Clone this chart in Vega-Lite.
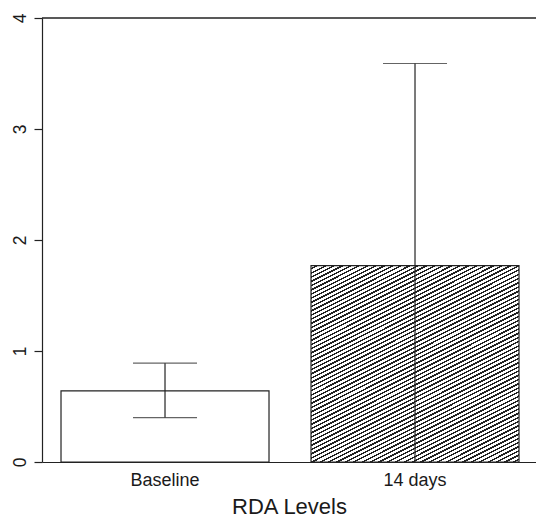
{
  "$schema": "https://vega.github.io/schema/vega-lite/v6.json",
  "autosize": "none",
  "width": 494,
  "height": 444,
  "padding": {"left": 42, "top": 18, "right": 0, "bottom": 56},
  "background": "white",
  "config": {
    "view": {"stroke": null},
    "font": "Liberation Sans",
    "axis": {"grid": false, "domainColor": "#222", "domainWidth": 1.2, "tickColor": "#222", "tickWidth": 1.2, "labelColor": "#1a1a1a", "titleColor": "#1a1a1a", "labelFont": "Liberation Sans", "titleFont": "Liberation Sans"}
  },
  "data": {"values": [
    {"group": "Baseline", "mean": 0.64, "lo": 0.40, "hi": 0.89},
    {"group": "14 days", "mean": 1.77, "lo": -0.05, "hi": 3.59}
  ]},
  "layer": [
    {
      "transform": [{"filter": "datum.group === 'Baseline'"}],
      "mark": {"type": "bar", "fill": "white", "stroke": "#222", "strokeWidth": 1.2},
      "encoding": {
        "x": {"field": "group", "type": "nominal", "sort": ["Baseline", "14 days"],
          "scale": {"paddingInner": 0.168, "paddingOuter": 0.072, "align": 0.528},
          "axis": {"title": "RDA Levels", "ticks": false, "labelAngle": 0, "labelFontSize": 18, "labelBaseline": "alphabetic", "labelPadding": 23, "titleFontSize": 22, "titleFontWeight": "normal", "titleBaseline": "alphabetic", "titleY": 51}},
        "y": {"field": "mean", "type": "quantitative",
          "scale": {"domain": [0, 4], "nice": false},
          "axis": {"title": null, "values": [0, 1, 2, 3, 4], "format": "d", "tickSize": 8, "labelAngle": -90, "labelAlign": "center", "labelBaseline": "alphabetic", "labelPadding": 9, "labelFontSize": 17.5}}
      }
    },
    {
      "transform": [{"filter": "datum.group === '14 days'"}],
      "mark": {"type": "bar", "stroke": "#222", "strokeWidth": 1.2,
        "fill": {"gradient": "linear", "x1": 0, "y1": 0, "x2": 0.709, "y2": 1.337, "stops": [
          {"offset": 0, "color": "#fff"}, {"offset": 0.0075, "color": "#fff"}, {"offset": 0.0075, "color": "#222"}, {"offset": 0.0125, "color": "#222"},
          {"offset": 0.0125, "color": "#fff"}, {"offset": 0.02, "color": "#fff"}, {"offset": 0.02, "color": "#222"}, {"offset": 0.025, "color": "#222"},
          {"offset": 0.025, "color": "#fff"}, {"offset": 0.0325, "color": "#fff"}, {"offset": 0.0325, "color": "#222"}, {"offset": 0.0375, "color": "#222"},
          {"offset": 0.0375, "color": "#fff"}, {"offset": 0.045, "color": "#fff"}, {"offset": 0.045, "color": "#222"}, {"offset": 0.05, "color": "#222"},
          {"offset": 0.05, "color": "#fff"}, {"offset": 0.0575, "color": "#fff"}, {"offset": 0.0575, "color": "#222"}, {"offset": 0.0625, "color": "#222"},
          {"offset": 0.0625, "color": "#fff"}, {"offset": 0.07, "color": "#fff"}, {"offset": 0.07, "color": "#222"}, {"offset": 0.075, "color": "#222"},
          {"offset": 0.075, "color": "#fff"}, {"offset": 0.0825, "color": "#fff"}, {"offset": 0.0825, "color": "#222"}, {"offset": 0.0875, "color": "#222"},
          {"offset": 0.0875, "color": "#fff"}, {"offset": 0.095, "color": "#fff"}, {"offset": 0.095, "color": "#222"}, {"offset": 0.1, "color": "#222"},
          {"offset": 0.1, "color": "#fff"}, {"offset": 0.1075, "color": "#fff"}, {"offset": 0.1075, "color": "#222"}, {"offset": 0.1125, "color": "#222"},
          {"offset": 0.1125, "color": "#fff"}, {"offset": 0.12, "color": "#fff"}, {"offset": 0.12, "color": "#222"}, {"offset": 0.125, "color": "#222"},
          {"offset": 0.125, "color": "#fff"}, {"offset": 0.1325, "color": "#fff"}, {"offset": 0.1325, "color": "#222"}, {"offset": 0.1375, "color": "#222"},
          {"offset": 0.1375, "color": "#fff"}, {"offset": 0.145, "color": "#fff"}, {"offset": 0.145, "color": "#222"}, {"offset": 0.15, "color": "#222"},
          {"offset": 0.15, "color": "#fff"}, {"offset": 0.1575, "color": "#fff"}, {"offset": 0.1575, "color": "#222"}, {"offset": 0.1625, "color": "#222"},
          {"offset": 0.1625, "color": "#fff"}, {"offset": 0.17, "color": "#fff"}, {"offset": 0.17, "color": "#222"}, {"offset": 0.175, "color": "#222"},
          {"offset": 0.175, "color": "#fff"}, {"offset": 0.1825, "color": "#fff"}, {"offset": 0.1825, "color": "#222"}, {"offset": 0.1875, "color": "#222"},
          {"offset": 0.1875, "color": "#fff"}, {"offset": 0.195, "color": "#fff"}, {"offset": 0.195, "color": "#222"}, {"offset": 0.2, "color": "#222"},
          {"offset": 0.2, "color": "#fff"}, {"offset": 0.2075, "color": "#fff"}, {"offset": 0.2075, "color": "#222"}, {"offset": 0.2125, "color": "#222"},
          {"offset": 0.2125, "color": "#fff"}, {"offset": 0.22, "color": "#fff"}, {"offset": 0.22, "color": "#222"}, {"offset": 0.225, "color": "#222"},
          {"offset": 0.225, "color": "#fff"}, {"offset": 0.2325, "color": "#fff"}, {"offset": 0.2325, "color": "#222"}, {"offset": 0.2375, "color": "#222"},
          {"offset": 0.2375, "color": "#fff"}, {"offset": 0.245, "color": "#fff"}, {"offset": 0.245, "color": "#222"}, {"offset": 0.25, "color": "#222"},
          {"offset": 0.25, "color": "#fff"}, {"offset": 0.2575, "color": "#fff"}, {"offset": 0.2575, "color": "#222"}, {"offset": 0.2625, "color": "#222"},
          {"offset": 0.2625, "color": "#fff"}, {"offset": 0.27, "color": "#fff"}, {"offset": 0.27, "color": "#222"}, {"offset": 0.275, "color": "#222"},
          {"offset": 0.275, "color": "#fff"}, {"offset": 0.2825, "color": "#fff"}, {"offset": 0.2825, "color": "#222"}, {"offset": 0.2875, "color": "#222"},
          {"offset": 0.2875, "color": "#fff"}, {"offset": 0.295, "color": "#fff"}, {"offset": 0.295, "color": "#222"}, {"offset": 0.3, "color": "#222"},
          {"offset": 0.3, "color": "#fff"}, {"offset": 0.3075, "color": "#fff"}, {"offset": 0.3075, "color": "#222"}, {"offset": 0.3125, "color": "#222"},
          {"offset": 0.3125, "color": "#fff"}, {"offset": 0.32, "color": "#fff"}, {"offset": 0.32, "color": "#222"}, {"offset": 0.325, "color": "#222"},
          {"offset": 0.325, "color": "#fff"}, {"offset": 0.3325, "color": "#fff"}, {"offset": 0.3325, "color": "#222"}, {"offset": 0.3375, "color": "#222"},
          {"offset": 0.3375, "color": "#fff"}, {"offset": 0.345, "color": "#fff"}, {"offset": 0.345, "color": "#222"}, {"offset": 0.35, "color": "#222"},
          {"offset": 0.35, "color": "#fff"}, {"offset": 0.3575, "color": "#fff"}, {"offset": 0.3575, "color": "#222"}, {"offset": 0.3625, "color": "#222"},
          {"offset": 0.3625, "color": "#fff"}, {"offset": 0.37, "color": "#fff"}, {"offset": 0.37, "color": "#222"}, {"offset": 0.375, "color": "#222"},
          {"offset": 0.375, "color": "#fff"}, {"offset": 0.3825, "color": "#fff"}, {"offset": 0.3825, "color": "#222"}, {"offset": 0.3875, "color": "#222"},
          {"offset": 0.3875, "color": "#fff"}, {"offset": 0.395, "color": "#fff"}, {"offset": 0.395, "color": "#222"}, {"offset": 0.4, "color": "#222"},
          {"offset": 0.4, "color": "#fff"}, {"offset": 0.4075, "color": "#fff"}, {"offset": 0.4075, "color": "#222"}, {"offset": 0.4125, "color": "#222"},
          {"offset": 0.4125, "color": "#fff"}, {"offset": 0.42, "color": "#fff"}, {"offset": 0.42, "color": "#222"}, {"offset": 0.425, "color": "#222"},
          {"offset": 0.425, "color": "#fff"}, {"offset": 0.4325, "color": "#fff"}, {"offset": 0.4325, "color": "#222"}, {"offset": 0.4375, "color": "#222"},
          {"offset": 0.4375, "color": "#fff"}, {"offset": 0.445, "color": "#fff"}, {"offset": 0.445, "color": "#222"}, {"offset": 0.45, "color": "#222"},
          {"offset": 0.45, "color": "#fff"}, {"offset": 0.4575, "color": "#fff"}, {"offset": 0.4575, "color": "#222"}, {"offset": 0.4625, "color": "#222"},
          {"offset": 0.4625, "color": "#fff"}, {"offset": 0.47, "color": "#fff"}, {"offset": 0.47, "color": "#222"}, {"offset": 0.475, "color": "#222"},
          {"offset": 0.475, "color": "#fff"}, {"offset": 0.4825, "color": "#fff"}, {"offset": 0.4825, "color": "#222"}, {"offset": 0.4875, "color": "#222"},
          {"offset": 0.4875, "color": "#fff"}, {"offset": 0.495, "color": "#fff"}, {"offset": 0.495, "color": "#222"}, {"offset": 0.5, "color": "#222"},
          {"offset": 0.5, "color": "#fff"}, {"offset": 0.5075, "color": "#fff"}, {"offset": 0.5075, "color": "#222"}, {"offset": 0.5125, "color": "#222"},
          {"offset": 0.5125, "color": "#fff"}, {"offset": 0.52, "color": "#fff"}, {"offset": 0.52, "color": "#222"}, {"offset": 0.525, "color": "#222"},
          {"offset": 0.525, "color": "#fff"}, {"offset": 0.5325, "color": "#fff"}, {"offset": 0.5325, "color": "#222"}, {"offset": 0.5375, "color": "#222"},
          {"offset": 0.5375, "color": "#fff"}, {"offset": 0.545, "color": "#fff"}, {"offset": 0.545, "color": "#222"}, {"offset": 0.55, "color": "#222"},
          {"offset": 0.55, "color": "#fff"}, {"offset": 0.5575, "color": "#fff"}, {"offset": 0.5575, "color": "#222"}, {"offset": 0.5625, "color": "#222"},
          {"offset": 0.5625, "color": "#fff"}, {"offset": 0.57, "color": "#fff"}, {"offset": 0.57, "color": "#222"}, {"offset": 0.575, "color": "#222"},
          {"offset": 0.575, "color": "#fff"}, {"offset": 0.5825, "color": "#fff"}, {"offset": 0.5825, "color": "#222"}, {"offset": 0.5875, "color": "#222"},
          {"offset": 0.5875, "color": "#fff"}, {"offset": 0.595, "color": "#fff"}, {"offset": 0.595, "color": "#222"}, {"offset": 0.6, "color": "#222"},
          {"offset": 0.6, "color": "#fff"}, {"offset": 0.6075, "color": "#fff"}, {"offset": 0.6075, "color": "#222"}, {"offset": 0.6125, "color": "#222"},
          {"offset": 0.6125, "color": "#fff"}, {"offset": 0.62, "color": "#fff"}, {"offset": 0.62, "color": "#222"}, {"offset": 0.625, "color": "#222"},
          {"offset": 0.625, "color": "#fff"}, {"offset": 0.6325, "color": "#fff"}, {"offset": 0.6325, "color": "#222"}, {"offset": 0.6375, "color": "#222"},
          {"offset": 0.6375, "color": "#fff"}, {"offset": 0.645, "color": "#fff"}, {"offset": 0.645, "color": "#222"}, {"offset": 0.65, "color": "#222"},
          {"offset": 0.65, "color": "#fff"}, {"offset": 0.6575, "color": "#fff"}, {"offset": 0.6575, "color": "#222"}, {"offset": 0.6625, "color": "#222"},
          {"offset": 0.6625, "color": "#fff"}, {"offset": 0.67, "color": "#fff"}, {"offset": 0.67, "color": "#222"}, {"offset": 0.675, "color": "#222"},
          {"offset": 0.675, "color": "#fff"}, {"offset": 0.6825, "color": "#fff"}, {"offset": 0.6825, "color": "#222"}, {"offset": 0.6875, "color": "#222"},
          {"offset": 0.6875, "color": "#fff"}, {"offset": 0.695, "color": "#fff"}, {"offset": 0.695, "color": "#222"}, {"offset": 0.7, "color": "#222"},
          {"offset": 0.7, "color": "#fff"}, {"offset": 0.7075, "color": "#fff"}, {"offset": 0.7075, "color": "#222"}, {"offset": 0.7125, "color": "#222"},
          {"offset": 0.7125, "color": "#fff"}, {"offset": 0.72, "color": "#fff"}, {"offset": 0.72, "color": "#222"}, {"offset": 0.725, "color": "#222"},
          {"offset": 0.725, "color": "#fff"}, {"offset": 0.7325, "color": "#fff"}, {"offset": 0.7325, "color": "#222"}, {"offset": 0.7375, "color": "#222"},
          {"offset": 0.7375, "color": "#fff"}, {"offset": 0.745, "color": "#fff"}, {"offset": 0.745, "color": "#222"}, {"offset": 0.75, "color": "#222"},
          {"offset": 0.75, "color": "#fff"}, {"offset": 0.7575, "color": "#fff"}, {"offset": 0.7575, "color": "#222"}, {"offset": 0.7625, "color": "#222"},
          {"offset": 0.7625, "color": "#fff"}, {"offset": 0.77, "color": "#fff"}, {"offset": 0.77, "color": "#222"}, {"offset": 0.775, "color": "#222"},
          {"offset": 0.775, "color": "#fff"}, {"offset": 0.7825, "color": "#fff"}, {"offset": 0.7825, "color": "#222"}, {"offset": 0.7875, "color": "#222"},
          {"offset": 0.7875, "color": "#fff"}, {"offset": 0.795, "color": "#fff"}, {"offset": 0.795, "color": "#222"}, {"offset": 0.8, "color": "#222"},
          {"offset": 0.8, "color": "#fff"}, {"offset": 0.8075, "color": "#fff"}, {"offset": 0.8075, "color": "#222"}, {"offset": 0.8125, "color": "#222"},
          {"offset": 0.8125, "color": "#fff"}, {"offset": 0.82, "color": "#fff"}, {"offset": 0.82, "color": "#222"}, {"offset": 0.825, "color": "#222"},
          {"offset": 0.825, "color": "#fff"}, {"offset": 0.8325, "color": "#fff"}, {"offset": 0.8325, "color": "#222"}, {"offset": 0.8375, "color": "#222"},
          {"offset": 0.8375, "color": "#fff"}, {"offset": 0.845, "color": "#fff"}, {"offset": 0.845, "color": "#222"}, {"offset": 0.85, "color": "#222"},
          {"offset": 0.85, "color": "#fff"}, {"offset": 0.8575, "color": "#fff"}, {"offset": 0.8575, "color": "#222"}, {"offset": 0.8625, "color": "#222"},
          {"offset": 0.8625, "color": "#fff"}, {"offset": 0.87, "color": "#fff"}, {"offset": 0.87, "color": "#222"}, {"offset": 0.875, "color": "#222"},
          {"offset": 0.875, "color": "#fff"}, {"offset": 0.8825, "color": "#fff"}, {"offset": 0.8825, "color": "#222"}, {"offset": 0.8875, "color": "#222"},
          {"offset": 0.8875, "color": "#fff"}, {"offset": 0.895, "color": "#fff"}, {"offset": 0.895, "color": "#222"}, {"offset": 0.9, "color": "#222"},
          {"offset": 0.9, "color": "#fff"}, {"offset": 1, "color": "#fff"}
        ]}},
      "encoding": {
        "x": {"field": "group", "type": "nominal", "sort": ["Baseline", "14 days"]},
        "y": {"field": "mean", "type": "quantitative"}
      }
    },
    {
      "mark": {"type": "rule", "color": "#222", "strokeWidth": 1.2, "clip": true},
      "encoding": {
        "x": {"field": "group", "type": "nominal", "sort": ["Baseline", "14 days"]},
        "y": {"field": "lo", "type": "quantitative"},
        "y2": {"field": "hi"}
      }
    },
    {
      "mark": {"type": "tick", "color": "#222", "size": 64, "thickness": 1.2, "clip": true},
      "encoding": {
        "x": {"field": "group", "type": "nominal", "sort": ["Baseline", "14 days"]},
        "y": {"field": "hi", "type": "quantitative"}
      }
    },
    {
      "mark": {"type": "tick", "color": "#222", "size": 64, "thickness": 1.2, "clip": true},
      "encoding": {
        "x": {"field": "group", "type": "nominal", "sort": ["Baseline", "14 days"]},
        "y": {"field": "lo", "type": "quantitative"}
      }
    },
    {
      "mark": {"type": "rule", "color": "#222", "strokeWidth": 1.2},
      "encoding": {"y": {"datum": 4}}
    }
  ]
}
